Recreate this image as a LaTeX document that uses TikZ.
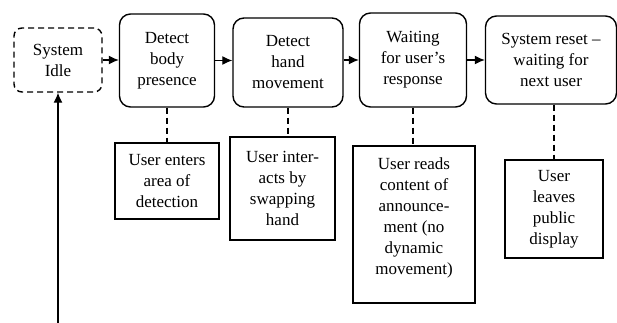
\documentclass[tikz,border=0pt]{standalone}
\usepackage{fontspec}
\setmainfont{Liberation Serif}
\usetikzlibrary{arrows.meta}
\begin{document}
\begin{tikzpicture}[x=1pt,y=-1pt,
  every node/.style={font=\fontsize{17}{21}\selectfont, align=center, inner sep=0pt},
  state/.style={draw, line width=1.4pt, rounded corners=11pt},
  idlebox/.style={draw, line width=1.4pt, rounded corners=8pt, dash pattern=on 6pt off 4pt},
  tbox/.style={draw, line width=1.2pt},
  flow/.style={line width=1.2pt, -{Latex[length=10pt,width=9pt]}},
  link/.style={line width=1.2pt, dash pattern=on 6pt off 4pt}]
\useasboundingbox (0,0) rectangle (617,323);
% states
\node[idlebox, minimum width=88pt, minimum height=64pt] (idle) at (58,60) {System\\Idle};
\node[state, minimum width=95pt, minimum height=93pt] (body) at (167,60.5) {Detect\\body\\presence};
\node[state, minimum width=110pt, minimum height=89pt] (hand) at (288,62.5) {Detect\\hand\\movement};
\node[state, minimum width=107pt, minimum height=94pt] (wait) at (413,60) {Waiting\\for user’s\\response};
\node[state, minimum width=131pt, minimum height=88pt] (reset) at (551,60) {System reset –\\waiting for\\next user};
% text boxes
\node[tbox, minimum width=104pt, minimum height=76pt] (enters) at (167,181) {User enters\\area of\\detection};
\node[tbox, minimum width=105pt, minimum height=103pt] (inter) at (282.5,188.5) {User inter-\\acts by\\swapping\\hand};
\node[tbox, minimum width=122pt, minimum height=157pt] (reads) at (414,224.5) {};
\node (readstxt) at (414,217.5) {User reads\\content of\\announce-\\ment (no\\dynamic\\movement)};
\node[tbox, minimum width=98pt, minimum height=98pt] (leaves) at (554,209) {User\\leaves\\public\\display};
% flow arrows
\draw[flow] (idle.east) -- (body.west |- idle.east);
\draw[flow] (body.east) -- (hand.west |- body.east);
\draw[flow] (hand.east |- wait.east) -- (wait.west);
\draw[flow] (wait.east) -- (reset.west |- wait.east);
\coordinate (start) at (58,323);
\draw[flow] (start) -- (idle.south);
% dashed links
\draw[link] (body.south) -- (body.south |- enters.north);
\draw[link] (hand.south) -- (hand.south |- inter.north);
\draw[link] (wait.south) -- (wait.south |- reads.north);
\draw[link] (leaves.north |- reset.south) -- (leaves.north);
\end{tikzpicture}
\end{document}
